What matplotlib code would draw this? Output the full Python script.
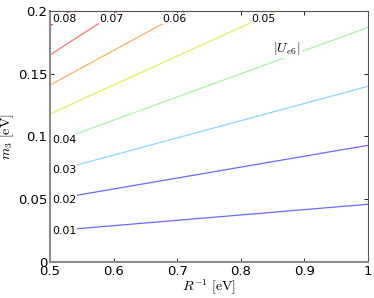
import matplotlib
matplotlib.use("Agg")
import matplotlib.pyplot as plt

plt.rcParams['mathtext.fontset'] = 'cm'

# contour levels of |U_e6|
levels = [0.01, 0.02, 0.03, 0.04, 0.05, 0.06, 0.07, 0.08]
# start points (at R^-1 = 0.5)
x_start = [0.5, 0.5, 0.5, 0.5, 0.5, 0.5, 0.5, 0.5]
y_start = [0.0247, 0.0495, 0.0715, 0.0945, 0.118, 0.141, 0.165, 0.188]
# end points (right edge or top edge)
x_end = [1.0, 1.0, 1.0, 1.0, 0.856, 0.714, 0.607, 0.532]
y_end = [0.046, 0.093, 0.140, 0.187, 0.2, 0.2, 0.2, 0.2]
colors = ['#6a6aff', '#6a6aff', '#8ad8ff', '#a8f5a8', '#e0f060', '#ffb060', '#ff7070', '#ff4040']
label_text = ['0.01', '0.02', '0.03', '0.04', '0.05', '0.06', '0.07', '0.08']
label_x = [0.503, 0.503, 0.503, 0.503, 0.816, 0.676, 0.578, 0.503]
label_y = [0.0245, 0.0495, 0.0735, 0.0975, 0.194, 0.194, 0.194, 0.194]

fig = plt.figure(figsize=(3.74, 2.98), dpi=100)
ax = fig.add_axes([0.1337, 0.1208, 0.8503, 0.8423])

for xs, ys, xe, ye, c in zip(x_start, y_start, x_end, y_end, colors):
    ax.plot([xs, xe], [ys, ye], color=c, lw=0.9, zorder=2)

for t, lx, ly in zip(label_text, label_x, label_y):
    ax.text(lx, ly, t, fontsize=7.8, ha='left', va='center', zorder=3,
            bbox=dict(facecolor='white', edgecolor='none', pad=0.3))

ax.text(0.873, 0.170, r'$|U_{e6}|$', fontsize=10, ha='center', va='center', zorder=3,
        bbox=dict(facecolor='white', edgecolor='none', pad=0.5))

ax.set_xlim(0.5, 1.0)
ax.set_ylim(0, 0.2)
ax.set_xticks([0.5, 0.6, 0.7, 0.8, 0.9, 1.0])
ax.set_xticklabels(['0.5', '0.6', '0.7', '0.8', '0.9', '1'])
ax.set_yticks([0, 0.05, 0.1, 0.15, 0.2])
ax.set_yticklabels(['0', '0.05', '0.1', '0.15', '0.2'])
ax.tick_params(direction='in', top=True, right=True, labelsize=9.5, length=3, width=0.6, pad=2)

for s in ['left', 'bottom']:
    ax.spines[s].set_color('#8a8a8a')
    ax.spines[s].set_linewidth(1.5)
for s in ['top', 'right']:
    ax.spines[s].set_color('#555555')
    ax.spines[s].set_linewidth(0.8)

ax.set_xlabel(r'$R^{-1}\ [\mathrm{eV}]$', fontsize=10, labelpad=0)
ax.set_ylabel(r'$m_3\ [\mathrm{eV}]$', fontsize=10, labelpad=1)

fig.savefig('out.png', dpi=100)
